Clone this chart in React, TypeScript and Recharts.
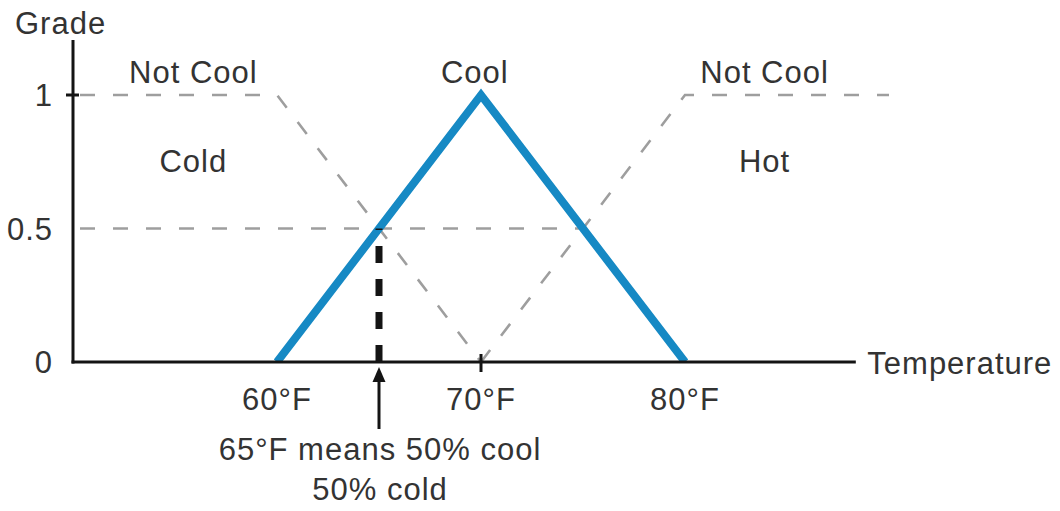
import React from 'react';
import { ComposedChart, Line, XAxis, YAxis, ReferenceLine, ReferenceDot } from 'recharts';

// Membership functions (temperature in °F -> grade)
const coolTemps = [60, 70, 80];
const coolGrades = [0, 1, 0];
const coldTemps = [50, 60, 70];
const coldGrades = [1, 1, 0];
const hotTemps = [70, 80, 90];
const hotGrades = [0, 1, 1];
const halfTemps = [50, 75];
const halfGrades = [0.5, 0.5];

// Axes
const xTicks = [60, 70, 80];
const xTickLabels = ['60°F', '70°F', '80°F'];
const yTicks = [0, 0.5, 1];
const yTickLabels = ['0', '0.5', '1'];
const xAxisEnd = 88.3;
const yAxisTop = 1.2;
const xAxisTitle = 'Temperature';
const yAxisTitle = 'Grade';

// Region labels (anchored in data space)
const regionLabels = ['Not Cool', 'Cool', 'Not Cool', 'Cold', 'Hot'];
const regionLabelTemps = [55.9, 69.7, 83.9, 55.9, 83.9];
const regionLabelGrades = [1.045, 1.045, 1.045, 0.71, 0.71];

// Example reading
const sampleTemp = 65;
const sampleGrade = 0.5;
const sampleNoteLines = ['65°F means 50% cool', '50% cold'];

const toData = (ts: number[], gs: number[]) => ts.map((t, i) => ({ t, g: gs[i] }));

const coolData = toData(coolTemps, coolGrades);
const coldData = toData(coldTemps, coldGrades);
const hotData = toData(hotTemps, hotGrades);
const halfData = toData(halfTemps, halfGrades);

const FONT = '"Liberation Sans", Arial, Helvetica, sans-serif';
const TEXT = '#333333';
const GRAY = '#9e9e9e';
const BLUE = '#1689c4';
const AXIS = '#141414';
const FS = 31;

const textStyle = { fontFamily: FONT, fontSize: FS, fill: TEXT, letterSpacing: 1 } as const;

export default function App() {
  return (
    <div style={{ position: 'absolute', left: 0, top: 0, width: 1060, height: 511 }}>
      <ComposedChart
        width={1060}
        height={511}
        margin={{ top: 41.6, right: 171, bottom: 119, left: 0 }}
      >
        <XAxis
          dataKey="t"
          type="number"
          domain={[50, 90]}
          ticks={xTicks}
          tickFormatter={(v: number) => xTickLabels[xTicks.indexOf(v)]}
          axisLine={false}
          tickLine={false}
          tickSize={6}
          tickMargin={20}
          height={30}
          interval={0}
          tick={textStyle}
          allowDataOverflow
        />
        <YAxis
          dataKey="g"
          type="number"
          domain={[0, yAxisTop]}
          ticks={yTicks}
          tickFormatter={(v: number) => yTickLabels[yTicks.indexOf(v)]}
          axisLine={false}
          tickLine={false}
          tickSize={6}
          tickMargin={14}
          width={73}
          interval={0}
          tick={textStyle}
          allowDataOverflow
        />

        <Line
          data={halfData}
          dataKey="g"
          type="linear"
          stroke={GRAY}
          strokeWidth={2.6}
          strokeDasharray="15 18"
          strokeDashoffset={26}
          dot={false}
          activeDot={false}
          isAnimationActive={false}
        />
        <Line
          data={coldData}
          dataKey="g"
          type="linear"
          stroke={GRAY}
          strokeWidth={2.6}
          strokeDasharray="15 18"
          strokeDashoffset={26}
          dot={false}
          activeDot={false}
          isAnimationActive={false}
        />
        <Line
          data={hotData}
          dataKey="g"
          type="linear"
          stroke={GRAY}
          strokeWidth={2.6}
          strokeDasharray="15 18"
          dot={false}
          activeDot={false}
          isAnimationActive={false}
        />
        <Line
          data={coolData}
          dataKey="g"
          type="linear"
          stroke={BLUE}
          strokeWidth={8}
          strokeLinejoin="miter"
          dot={false}
          activeDot={false}
          isAnimationActive={false}
        />

        {/* Axis lines */}
        <ReferenceLine
          segment={[{ x: 50, y: 0 }, { x: xAxisEnd, y: 0 }]}
          stroke={AXIS}
          strokeWidth={3}
          strokeLinecap="square"
          ifOverflow="visible"
        />
        <ReferenceLine
          segment={[{ x: 50, y: 0 }, { x: 50, y: yAxisTop }]}
          stroke={AXIS}
          strokeWidth={3}
          strokeLinecap="square"
          ifOverflow="visible"
        />

        {/* Sample reading: dashed drop line */}
        <ReferenceLine
          segment={[{ x: sampleTemp, y: 0 }, { x: sampleTemp, y: sampleGrade }]}
          stroke={AXIS}
          strokeWidth={7}
          strokeDasharray="17 16"
          ifOverflow="visible"
        />

        {/* Tick marks */}
        <ReferenceDot
          x={50}
          y={1}
          r={0}
          ifOverflow="visible"
          shape={(p: any) => (
            <line x1={p.cx - 7} x2={p.cx + 6} y1={p.cy} y2={p.cy} stroke={AXIS} strokeWidth={3} />
          )}
        />
        <ReferenceDot
          x={70}
          y={0}
          r={0}
          ifOverflow="visible"
          shape={(p: any) => (
            <line x1={p.cx} x2={p.cx} y1={p.cy - 8} y2={p.cy + 10} stroke={AXIS} strokeWidth={3} />
          )}
        />

        {/* Axis titles */}
        <ReferenceDot
          x={50}
          y={yAxisTop}
          r={0}
          ifOverflow="visible"
          shape={(p: any) => (
            <text x={p.cx - 58} y={p.cy - 8} textAnchor="start" {...textStyle}>
              {yAxisTitle}
            </text>
          )}
        />
        <ReferenceDot
          x={xAxisEnd}
          y={0}
          r={0}
          ifOverflow="visible"
          shape={(p: any) => (
            <text x={p.cx + 13} y={p.cy + 12} textAnchor="start" {...textStyle}>
              {xAxisTitle}
            </text>
          )}
        />

        {/* Region labels */}
        {regionLabels.map((lbl, i) => (
          <ReferenceDot
            key={`lbl-${i}`}
            x={regionLabelTemps[i]}
            y={regionLabelGrades[i]}
            r={0}
            ifOverflow="visible"
            shape={(p: any) => (
              <text x={p.cx} y={p.cy} textAnchor="middle" {...textStyle}>
                {lbl}
              </text>
            )}
          />
        ))}

        {/* Arrow and note */}
        <ReferenceDot
          x={sampleTemp}
          y={0}
          r={0}
          ifOverflow="visible"
          shape={(p: any) => (
            <g>
              <line x1={p.cx} x2={p.cx} y1={p.cy + 16} y2={p.cy + 67} stroke={AXIS} strokeWidth={3} />
              <polygon
                points={`${p.cx},${p.cy + 5} ${p.cx - 6.5},${p.cy + 20} ${p.cx + 6.5},${p.cy + 20}`}
                fill={AXIS}
              />
              {sampleNoteLines.map((s, k) => (
                <text key={k} x={p.cx + 1} y={p.cy + 98 + k * 40} textAnchor="middle" {...textStyle}>
                  {s}
                </text>
              ))}
            </g>
          )}
        />
      </ComposedChart>
    </div>
  );
}
